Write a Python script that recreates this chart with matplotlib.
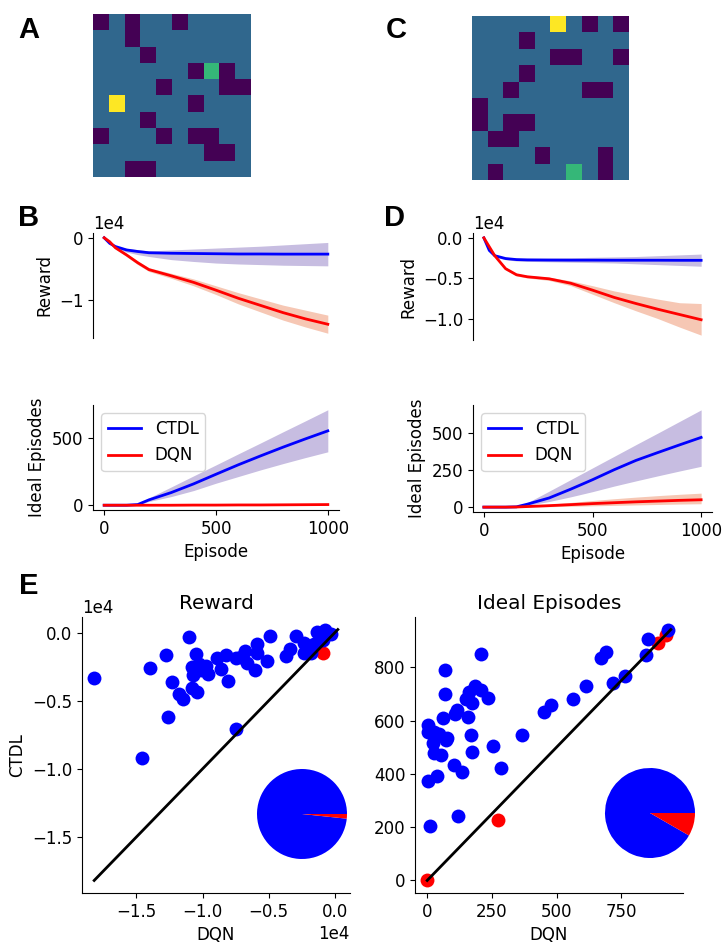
import numpy as np
import matplotlib
matplotlib.use('Agg')
import matplotlib.pyplot as plt
from matplotlib.ticker import MultipleLocator

plt.rcParams['font.size'] = 12

# mazes: '#' wall, '.' free, 'G' goal (green), 'Y' agent (yellow)
maze_a = ["#.#..#....",
          "..#.......",
          "...#......",
          "......#G#.",
          "....#...##",
          ".Y....#...",
          "...#......",
          "#...#.##..",
          ".......##.",
          "..##......"]
maze_c = [".....Y.#.#",
          "...#......",
          ".....##..#",
          "...#......",
          "..#....##.",
          "#.........",
          "#.##......",
          ".##.......",
          "....#...#.",
          ".#....G.#."]
cell_value = {'#': 0, '.': 1, 'G': 2, 'Y': 3}

episodes = [0, 25, 50, 100, 150, 200, 300, 400, 500, 600, 700, 800, 900, 1000]

# panel B (maze A)
b_ctdl_rew = [0, -900, -1400, -1950, -2200, -2400, -2480, -2520, -2560, -2600, -2600, -2620, -2620, -2620]
b_ctdl_rew_hi = [0, -800, -1250, -1700, -1900, -2100, -1950, -1800, -1650, -1500, -1350, -1150, -950, -750]
b_ctdl_rew_lo = [0, -1000, -1600, -2300, -2700, -3000, -3500, -3800, -4050, -4200, -4300, -4400, -4450, -4500]
b_dqn_rew = [0, -650, -1600, -2750, -4000, -5100, -6100, -7150, -8400, -9700, -10850, -12000, -13000, -13860]
b_dqn_rew_hi = [0, -550, -1400, -2500, -3700, -4800, -5700, -6600, -7700, -8800, -9800, -10800, -11600, -12400]
b_dqn_rew_lo = [0, -750, -1800, -3000, -4300, -5400, -6500, -7700, -9100, -10600, -11900, -13200, -14300, -15300]
b_ctdl_ideal = [0, 0, 0, 0, 5, 40, 95, 160, 232, 303, 370, 435, 497, 557]
b_ctdl_ideal_hi = [0, 0, 0, 0, 8, 55, 137, 220, 302, 385, 467, 550, 632, 715]
b_ctdl_ideal_lo = [0, 0, 0, 0, 2, 28, 65, 110, 165, 215, 265, 312, 357, 400]
b_dqn_ideal = [0, 0, 0, 0, 0, 0, 0, 1, 1, 2, 2, 3, 4, 5]
b_dqn_ideal_hi = [0, 0, 0, 0, 0, 1, 2, 3, 4, 5, 6, 7, 8, 9]
b_dqn_ideal_lo = [0, 0, 0, 0, 0, 0, 0, 0, 0, 0, 0, 0, 1, 1]

# panel D (maze C)
d_ctdl_rew = [0, -1550, -2200, -2550, -2680, -2720, -2740, -2750, -2750, -2760, -2760, -2760, -2770, -2770]
d_ctdl_rew_hi = [0, -1450, -2050, -2400, -2500, -2500, -2480, -2450, -2400, -2350, -2300, -2200, -2100, -2000]
d_ctdl_rew_lo = [0, -1650, -2350, -2700, -2850, -2900, -2950, -3000, -3050, -3100, -3200, -3300, -3400, -3500]
d_dqn_rew = [0, -1100, -2200, -3800, -4550, -4800, -5050, -5600, -6450, -7350, -8100, -8800, -9450, -10100]
d_dqn_rew_hi = [0, -1000, -2050, -3650, -4400, -4650, -4850, -5300, -5900, -6550, -7050, -7550, -8000, -8100]
d_dqn_rew_lo = [0, -1200, -2350, -3950, -4700, -4950, -5250, -5900, -6950, -8000, -9000, -9950, -11000, -12000]
d_ctdl_ideal = [0, 0, 0, 0, 2, 20, 62, 122, 186, 254, 317, 370, 422, 473]
d_ctdl_ideal_hi = [0, 0, 0, 0, 4, 30, 108, 187, 266, 345, 424, 502, 581, 660]
d_ctdl_ideal_lo = [0, 0, 0, 0, 1, 12, 38, 70, 105, 143, 178, 212, 245, 277]
d_dqn_ideal = [0, 0, 0, 0, 1, 4, 10, 17, 24, 30, 36, 41, 46, 50]
d_dqn_ideal_hi = [0, 0, 0, 0, 2, 8, 20, 32, 45, 57, 68, 78, 87, 95]
d_dqn_ideal_lo = [0, 0, 0, 0, 0, 1, 3, 6, 9, 12, 15, 18, 21, 23]

# panel E, one point per maze
rew_dqn = [-18200, -14000, -12800, -11050, -12300, -11800, -11500, -12600, -10500, -10800,
           -10250, -10750, -10100, -9600, -9750, -10800, -10400, -8900, -8600, -8200,
           -8100, -7500, -7100, -6750, -6600, -5900, -5900, -6000, -5150, -4900,
           -3650, -3350, -2950, -2350, -2300, -1800, -1600, -1350, -750, -300,
           -900, -7450, -14600, -900]
rew_ctdl = [-3330, -2610, -1620, -310, -3650, -4470, -4860, -6210, -1590, -2490,
            -2290, -3090, -2730, -3040, -2440, -4060, -4370, -1880, -2680, -1640,
            -3570, -1880, -1810, -1330, -2200, -800, -1450, -2730, -2050, -240,
            -1710, -1160, -240, -750, -1450, -1520, -800, 50, 240, -70,
            -510, -7080, -9180, -1470]
ideal_dqn = [9, 3, 38, 3, 5, 28, 47, 77, 22, 73,
             28, 54, 103, 135, 285, 120, 60, 69, 67, 108,
             115, 159, 150, 172, 163, 185, 208, 236, 210, 169,
             172, 256, 368, 451, 477, 563, 614, 673, 691, 717,
             763, 853, 932, 0, 272, 845, 894, 923]
ideal_ctdl = [203, 374, 393, 584, 559, 559, 550, 534, 515, 528,
              478, 472, 432, 407, 422, 243, 610, 700, 790, 625,
              640, 615, 680, 668, 709, 730, 715, 684, 850, 547,
              484, 503, 547, 634, 659, 680, 730, 834, 856, 743,
              768, 905, 942, 0, 228, 846, 890, 921]

pie_reward = [59, 1]
pie_ideal = [55, 5]

W, H = 725, 947
fig = plt.figure(figsize=(W / 100, H / 100), dpi=100)


def box(x0, y0, x1, y1):
    return [x0 / W, 1 - y1 / H, (x1 - x0) / W, (y1 - y0) / H]


def draw_maze(rect, maze):
    ax = fig.add_axes(rect)
    grid = np.array([[cell_value[c] for c in row] for row in maze])
    ax.imshow(grid, cmap='viridis', vmin=0, vmax=3, aspect='auto')
    ax.axis('off')


draw_maze(box(93, 14, 251, 177), maze_a)
draw_maze(box(472, 16, 628, 180), maze_c)

ctdl_band = '#c7bde1'
dqn_band = '#f6c7b4'


def curves(rect_r, rect_i, data, rew_step, ideal_step):
    (cr, crh, crl, dr, drh, drl, ci, cih, cil, di, dih, dil) = data
    ax = fig.add_axes(rect_r)
    ax.fill_between(episodes, crl, crh, color=ctdl_band, lw=0)
    ax.fill_between(episodes, drl, drh, color=dqn_band, lw=0)
    ax.plot(episodes, cr, color='b', lw=2)
    ax.plot(episodes, dr, color='r', lw=2)
    ax.ticklabel_format(axis='y', style='sci', scilimits=(-3, 3))
    ax.yaxis.set_major_locator(MultipleLocator(rew_step))
    ax.set_xlim(-50, 1050)
    ax.set_xticks([])
    for s in ['top', 'right', 'bottom']:
        ax.spines[s].set_visible(False)
    ax.set_ylabel('Reward')

    ax = fig.add_axes(rect_i)
    ax.fill_between(episodes, cil, cih, color=ctdl_band, lw=0)
    ax.fill_between(episodes, dil, dih, color=dqn_band, lw=0)
    ax.plot(episodes, ci, color='b', lw=2, label='CTDL')
    ax.plot(episodes, di, color='r', lw=2, label='DQN')
    ax.yaxis.set_major_locator(MultipleLocator(ideal_step))
    ax.xaxis.set_major_locator(MultipleLocator(500))
    ax.set_xlim(-50, 1050)
    for s in ['top', 'right']:
        ax.spines[s].set_visible(False)
    ax.set_ylabel('Ideal Episodes')
    ax.set_xlabel('Episode')
    ax.legend(loc='upper left')


curves(box(93, 233, 339, 338), box(93, 405, 339, 510),
       (b_ctdl_rew, b_ctdl_rew_hi, b_ctdl_rew_lo, b_dqn_rew, b_dqn_rew_hi, b_dqn_rew_lo,
        b_ctdl_ideal, b_ctdl_ideal_hi, b_ctdl_ideal_lo, b_dqn_ideal, b_dqn_ideal_hi, b_dqn_ideal_lo),
       10000, 500)
curves(box(473, 233, 712, 340), box(473, 405, 712, 512),
       (d_ctdl_rew, d_ctdl_rew_hi, d_ctdl_rew_lo, d_dqn_rew, d_dqn_rew_hi, d_dqn_rew_lo,
        d_ctdl_ideal, d_ctdl_ideal_hi, d_ctdl_ideal_lo, d_dqn_ideal, d_dqn_ideal_hi, d_dqn_ideal_lo),
       5000, 250)


def compare(rect, pie_rect, dqn, ctdl, pie_counts, title, sci):
    ax = fig.add_axes(rect)
    dqn = np.array(dqn)
    ctdl = np.array(ctdl)
    better = ctdl > dqn
    ax.scatter(dqn[~better], ctdl[~better], s=100, color='r', lw=0)
    ax.scatter(dqn[better], ctdl[better], s=100, color='b', lw=0)
    lo = min(dqn.min(), ctdl.min())
    hi = max(dqn.max(), ctdl.max())
    ax.plot([lo, hi], [lo, hi], color='k', lw=2)
    for s in ['top', 'right']:
        ax.spines[s].set_visible(False)
    ax.set_title(title)
    ax.set_xlabel('DQN')
    if sci:
        ax.ticklabel_format(style='sci', scilimits=(-3, 3))
        ax.yaxis.set_major_locator(MultipleLocator(5000))
        ax.xaxis.set_major_locator(MultipleLocator(5000))
        ax.set_ylabel('CTDL')
    pax = fig.add_axes(pie_rect)
    pax.pie(pie_counts, colors=['b', 'r'])
    pax.set_xlim(-1, 1)
    pax.set_ylim(-1, 1)


compare(box(82, 617, 350, 893), box(257, 769, 347, 859), rew_dqn, rew_ctdl,
        pie_reward, 'Reward', True)
compare(box(415, 617, 683, 893), box(605, 768, 695, 858), ideal_dqn, ideal_ctdl,
        pie_ideal, 'Ideal Episodes', False)

for letter, x, y in [('A', 29, 30), ('C', 396, 30), ('B', 29, 218), ('D', 395, 218), ('E', 29, 586)]:
    fig.text(x / W, 1 - y / H, letter, fontsize=21, fontweight='bold',
             family='Liberation Sans', ha='center', va='center')

fig.savefig('out.png', dpi=100)
